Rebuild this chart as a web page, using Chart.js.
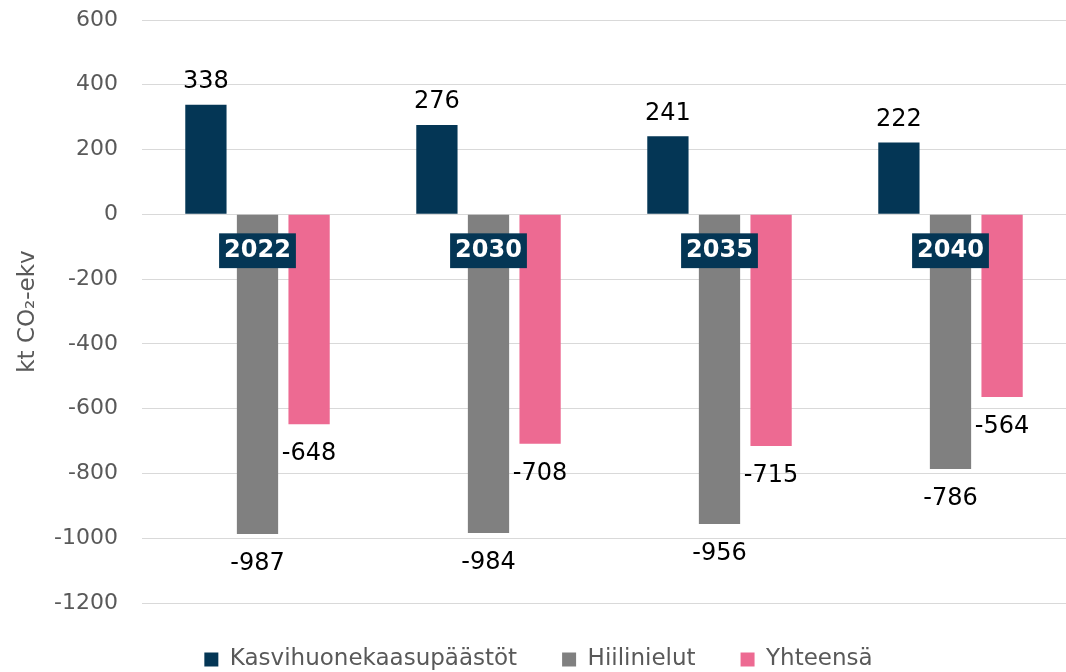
<!DOCTYPE html>
<html>
<head>
<meta charset="utf-8">
<script src="https://cdn.jsdelivr.net/npm/chart.js"></script>
<style>
  html, body { margin: 0; padding: 0; background: #fff; }
  #wrap { width: 1066px; height: 672px; }
</style>
</head>
<body>
<div id="wrap"><canvas id="myChart"></canvas></div>
<script>
const years = ['2022', '2030', '2035', '2040'];
const emissions = [338, 276, 241, 222];     // Kasvihuonekaasupäästöt
const sinks = [-987, -984, -956, -786];     // Hiilinielut
const totals = [-648, -708, -715, -564];    // Yhteensä
const yMin = -1200, yMax = 600, yStep = 200;

const font = 'DejaVu Sans';

// value labels at the end of each bar
const valueLabels = {
  id: 'valueLabels',
  afterDatasetsDraw(chart) {
    const ctx = chart.ctx;
    ctx.save();
    ctx.font = '24px "' + font + '"';
    ctx.fillStyle = '#000';
    ctx.textAlign = 'center';
    ctx.textBaseline = 'middle';
    chart.data.datasets.forEach((ds, i) => {
      chart.getDatasetMeta(i).data.forEach((bar, j) => {
        const v = ds.data[j];
        const y = v >= 0 ? bar.y - 23 : bar.y + 30;
        ctx.fillText(String(v), bar.x, y);
      });
    });
    ctx.restore();
  }
};

const data = {
  labels: years,
  datasets: [{
    label: 'Kasvihuonekaasupäästöt',
    data: emissions,
    backgroundColor: '#043655'
  }, {
    label: 'Hiilinielut',
    data: sinks,
    backgroundColor: '#808080'
  }, {
    label: 'Yhteensä',
    data: totals,
    backgroundColor: '#ED6A92'
  }]
};

const config = {
  type: 'bar',
  data,
  plugins: [valueLabels],
  options: {
    responsive: true,
    maintainAspectRatio: false,
    animation: false,
    datasets: {
      bar: { categoryPercentage: 0.67, barPercentage: 0.8 }
    },
    layout: { padding: { top: 20, right: 0, bottom: -9, left: 11 } },
    plugins: {
      legend: {
        position: 'bottom',
        labels: {
          boxWidth: 14,
          boxHeight: 14,
          padding: 45,
          color: '#595959',
          font: { family: font, size: 23 }
        }
      },
      tooltip: { enabled: false }
    },
    scales: {
      x: {
        position: { y: 0 },
        grid: { display: false, drawTicks: false },
        border: { display: false },
        ticks: {
          z: 1,
          color: '#fff',
          padding: 22,
          font: { family: font, size: 24, weight: 'bold' },
          showLabelBackdrop: true,
          backdropColor: '#043655',
          backdropPadding: { x: 5, y: 3 }
        }
      },
      y: {
        min: yMin,
        max: yMax,
        grid: { color: '#d9d9d9', drawTicks: false },
        border: { display: false },
        ticks: {
          stepSize: yStep,
          padding: 24,
          color: '#595959',
          font: { family: font, size: 22 },
          callback: v => String(v)
        },
        title: {
          display: true,
          text: 'kt CO₂-ekv',
          color: '#595959',
          font: { family: font, size: 23 },
          padding: { top: 3, bottom: 0 }
        },
        afterFit(s) {
          s.width = 131;
          s.paddingTop = 0;
          s.paddingBottom = 0;
        }
      }
    }
  }
};

const myChart = new Chart(document.getElementById('myChart'), config);
</script>
</body>
</html>
